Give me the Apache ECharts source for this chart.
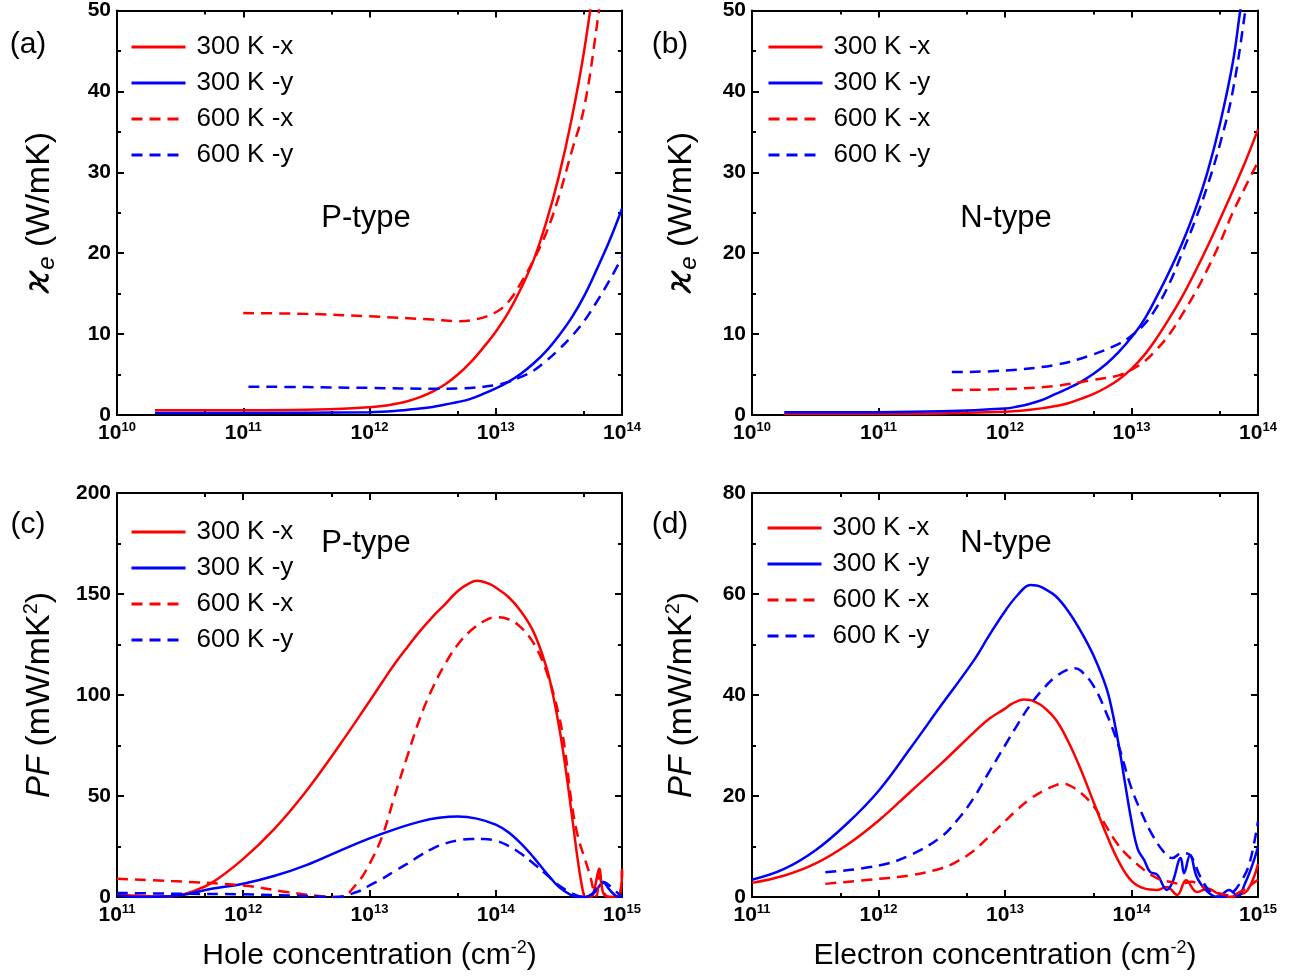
<!DOCTYPE html>
<html>
<head>
<meta charset="utf-8">
<title>Electronic thermal conductivity and power factor</title>
<script src="https://cdn.jsdelivr.net/npm/echarts@6/dist/echarts.min.js"></script>
<style>
  html, body { margin: 0; padding: 0; background: #ffffff; }
  #chart { width: 1296px; height: 976px; }
</style>
</head>
<body>
<div id="chart"></div>
<script>
// ---- series names and tick values ----
const seriesNames = ['300 K -x', '300 K -y', '600 K -x', '600 K -y'];
const decadesKappa = [1e10, 1e11, 1e12, 1e13, 1e14];
const minorKappa = [5e10, 5e11, 5e12, 5e13];
const decadesPF = [1e11, 1e12, 1e13, 1e14, 1e15];
const minorPF = [5e11, 5e12, 5e13, 5e14];

// ---- (a) P-type electronic thermal conductivity, [carrier conc. (cm^-2), W/mK] ----
const kappaP_300x = [[2e10,0.6],[1e11,0.6],[3.16e11,0.65],[1e12,0.95],[1.26e12,1.1],[1.58e12,1.35],[2e12,1.7],[2.51e12,2.2],[3.16e12,2.9],[3.98e12,3.8],[5.01e12,5.0],[6.31e12,6.5],[7.94e12,8.3],[1e13,10.3],[1.26e13,12.7],[1.58e13,15.6],[2e13,19.2],[2.51e13,23.8],[3.16e13,29.5],[3.98e13,36.5],[5.01e13,45],[6.31e13,56]];
const kappaP_300y = [[2e10,0.25],[1e11,0.25],[1e12,0.35],[1.58e12,0.5],[2.51e12,0.8],[3.16e12,1.0],[3.98e12,1.3],[5.01e12,1.6],[6.31e12,2.0],[7.94e12,2.6],[1e13,3.3],[1.26e13,4.1],[1.58e13,5.1],[2e13,6.4],[2.51e13,7.9],[3.16e13,9.8],[3.98e13,12.0],[5.01e13,14.7],[6.31e13,18.0],[7.94e13,21.5],[1e14,25.5]];
const kappaP_600x = [[1e11,12.6],[3.16e11,12.5],[1e12,12.2],[3.16e12,11.8],[5.01e12,11.6],[7.08e12,11.85],[1e13,12.7],[1.26e13,14.0],[1.58e13,16.3],[2e13,19.2],[2.51e13,22.5],[3.16e13,27.0],[3.98e13,32.5],[5.01e13,38],[6.31e13,48],[7.94e13,60]];
const kappaP_600y = [[1.1e11,3.5],[3.16e11,3.45],[1e12,3.35],[3.16e12,3.25],[5.5e12,3.3],[1e13,3.7],[1.26e13,4.1],[1.58e13,4.7],[2e13,5.5],[2.51e13,6.7],[3.16e13,8.1],[3.98e13,9.7],[5.01e13,11.6],[6.31e13,14.0],[7.94e13,16.6],[1e14,19.5]];

// ---- (b) N-type electronic thermal conductivity ----
const kappaN_300x = [[1.8e10,0.15],[1e11,0.15],[3.16e11,0.2],[1e12,0.4],[1.26e12,0.5],[1.58e12,0.65],[2e12,0.85],[2.51e12,1.1],[3.16e12,1.45],[3.98e12,2.0],[5.01e12,2.6],[6.31e12,3.4],[7.94e12,4.4],[1e13,5.7],[1.26e13,7.4],[1.58e13,9.5],[2e13,12.0],[2.51e13,14.6],[3.16e13,17.6],[3.98e13,20.8],[5.01e13,24.2],[6.31e13,27.7],[7.94e13,31.3],[1e14,35.3]];
const kappaN_300y = [[1.8e10,0.35],[1e11,0.35],[3.16e11,0.45],[1e12,0.8],[1.26e12,1.05],[1.58e12,1.4],[2e12,1.9],[2.51e12,2.6],[3.16e12,3.3],[3.98e12,4.1],[5.01e12,5.1],[6.31e12,6.3],[7.94e12,7.8],[1e13,9.6],[1.26e13,11.8],[1.58e13,14.6],[2e13,17.8],[2.51e13,21.2],[3.16e13,25.2],[3.98e13,30],[5.01e13,36],[6.31e13,43.5],[7.24e13,50],[7.94e13,54]];
const kappaN_600x = [[3.8e11,3.1],[1e12,3.2],[2.51e12,3.6],[4.79e12,4.3],[7.94e12,4.9],[1e13,5.6],[1.26e13,6.6],[1.58e13,8.1],[2e13,10.0],[2.51e13,12.4],[3.16e13,15.0],[3.98e13,18.0],[5.01e13,21.3],[6.31e13,25.0],[7.94e13,28.2],[1e14,31.3]];
const kappaN_600y = [[3.8e11,5.3],[1e12,5.5],[2.51e12,6.2],[4.79e12,7.4],[7.94e12,8.8],[1e13,9.8],[1.26e13,11.2],[1.58e13,13.3],[2e13,16.3],[2.51e13,20.0],[3.16e13,23.9],[3.98e13,28.3],[5.01e13,33.5],[6.31e13,40],[7.94e13,50],[8.51e13,54]];

// ---- (c) P-type power factor, [hole conc. (cm^-2), mW/mK^2] ----
const pfP_300x = [[1e11,1.3],[1.58e11,0.5],[2.51e11,0.2],[3.16e11,1.0],[3.98e11,2.8],[5.62e11,7.0],[1e12,18.9],[1.78e12,34],[3.16e12,52.5],[5.62e12,74],[1e13,96.9],[1.26e13,106.3],[1.58e13,115.3],[2e13,123.8],[2.51e13,131.6],[3.16e13,138.7],[3.98e13,145],[5.01e13,151.5],[6.31e13,155.6],[7.08e13,156.5],[7.94e13,156.1],[8.91e13,155.0],[1e14,153.2],[1.26e14,148.5],[1.58e14,141.5],[2e14,131],[2.51e14,114],[2.82e14,101],[3.16e14,85],[3.55e14,65],[3.98e14,42],[4.47e14,18],[4.9e14,3],[5.13e14,0],[5.7e14,0],[6.1e14,5],[6.6e14,14],[7.1e14,2],[8e14,0],[9.5e14,1],[1e15,14]];
const pfP_300y = [[1e11,0.8],[1.58e11,0],[2e11,0.1],[3.16e11,0.8],[5.62e11,4.1],[1e12,6.6],[1.78e12,10.5],[3.16e12,15.8],[5.62e12,22.5],[1e13,29.0],[1.58e13,33.5],[2.51e13,37.3],[3.55e13,39.2],[5.01e13,39.9],[7.08e13,38.8],[1e14,35.8],[1.26e14,32.0],[1.58e14,26.5],[2e14,19.5],[2.51e14,12.0],[3.16e14,5.0],[3.98e14,0.8],[4.47e14,0],[5.01e14,0],[6e14,2],[7.1e14,7],[8e14,3.5],[9e14,0.5],[1e15,0]];
const pfP_600x = [[1e11,9.0],[2.7e11,7.9],[1e12,5.7],[2.2e12,2.5],[4.3e12,0.3],[5.8e12,0],[7.94e12,6.6],[1e13,16.4],[1.26e13,30],[1.58e13,50],[2e13,70],[2.51e13,88.5],[3.16e13,103.5],[3.98e13,115.5],[5.01e13,125],[6.31e13,131.8],[7.94e13,136.3],[1e14,138.5],[1.26e14,137.5],[1.58e14,133.5],[2e14,125.5],[2.51e14,112],[3.16e14,90],[3.55e14,72],[3.98e14,47],[4.47e14,30],[5.01e14,20],[5.62e14,10],[6.03e14,2],[6.31e14,0.5],[6.61e14,14],[7.08e14,3],[7.94e14,0],[9.33e14,0],[1e15,13]];
const pfP_600y = [[1e11,2.0],[3.16e11,1.6],[1e12,1.3],[3.16e12,0.5],[5.4e12,0],[7.94e12,2.5],[1e13,5.7],[1.26e13,9.0],[1.58e13,12.8],[2e13,16.5],[2.51e13,20.5],[3.16e13,24.0],[3.98e13,26.5],[5.01e13,28.0],[6.31e13,28.7],[7.94e13,28.7],[1e14,27.9],[1.26e14,25.3],[1.58e14,21.5],[2e14,16.5],[2.51e14,11.2],[3.16e14,5.8],[3.98e14,2.0],[4.68e14,0.3],[5.62e14,1],[7.08e14,7.4],[8.51e14,4],[1e15,0]];

// ---- (d) N-type power factor, [electron conc. (cm^-2), mW/mK^2] ----
const pfN_300x = [[1e11,2.8],[1.78e11,4.2],[3.16e11,6.6],[5.62e11,10.3],[1e12,15.1],[1.78e12,20.8],[3.16e12,26.5],[5.62e12,32.5],[7.5e12,35.3],[1e13,37.3],[1.12e13,38.2],[1.26e13,38.8],[1.41e13,39.1],[1.58e13,39.0],[1.78e13,38.5],[2e13,37.7],[2.51e13,35.2],[3.16e13,30.8],[3.98e13,25.2],[5.01e13,18.8],[6.31e13,12.5],[7.94e13,7.0],[1e14,3.2],[1.26e14,1.7],[1.6e14,1.4],[1.9e14,2.0],[2.3e14,0.4],[2.7e14,3.3],[3.3e14,1],[4e14,1.7],[4.8e14,0.7],[5.8e14,0],[6.9e14,0.3],[8.3e14,1.4],[1e15,6.5]];
const pfN_300y = [[1e11,3.4],[1.78e11,5.5],[3.16e11,9.2],[5.62e11,14.5],[1e12,21],[1.78e12,29.4],[3.16e12,38.1],[5.62e12,46.7],[7.5e12,51.8],[1e13,56.6],[1.26e13,59.8],[1.58e13,61.8],[1.78e13,61.7],[2e13,61.2],[2.51e13,59.6],[3.16e13,56.6],[3.98e13,52.6],[5.01e13,47.8],[6.31e13,41.5],[7.08e13,36.5],[7.94e13,30],[8.91e13,22.4],[1e14,15],[1.12e14,9.5],[1.26e14,7.3],[1.4e14,5.0],[1.6e14,4.4],[1.8e14,2.0],[1.9e14,1.4],[2.1e14,2.8],[2.45e14,7.7],[2.6e14,4.7],[2.9e14,8.3],[3.3e14,3.8],[4e14,1],[4.8e14,0],[5.9e14,1.4],[6.9e14,0.2],[7.9e14,2.7],[9.3e14,7.3],[1e15,10]];
const pfN_600x = [[3.8e11,2.6],[1e12,3.6],[1.78e12,4.3],[3.16e12,5.7],[4.22e12,7.1],[5.62e12,9.1],[7.5e12,12.0],[1e13,15.0],[1.26e13,17.4],[1.58e13,19.4],[2e13,21.0],[2.51e13,22.1],[2.82e13,22.4],[3.16e13,22.2],[3.98e13,20.6],[5.01e13,18.0],[6.31e13,14.0],[7.59e13,10.8],[8.91e13,8.7],[1.17e14,6.0],[1.4e14,4.5],[1.7e14,3.4],[2e14,3.0],[2.45e14,2.6],[3e14,3],[3.5e14,2.3],[4.2e14,1.3],[5e14,0.7],[6e14,0.3],[7.2e14,1.0],[8.7e14,2.3],[1e15,3.4]];
const pfN_600y = [[3.8e11,4.9],[1e12,6.2],[1.78e12,8.3],[3.16e12,12.0],[4.22e12,15.3],[5.62e12,19.5],[7.5e12,24.8],[1e13,30.0],[1.26e13,34.2],[1.58e13,38.0],[2e13,41.2],[2.51e13,43.6],[3.16e13,45.1],[3.55e13,45.3],[3.98e13,44.8],[5.01e13,41.8],[6.31e13,36.5],[7.94e13,29.8],[1e14,21.5],[1.26e14,15.5],[1.41e14,13],[1.75e14,9.3],[2.1e14,7.7],[2.5e14,8.7],[2.9e14,8.3],[3.5e14,4.0],[4.2e14,1.0],[5.1e14,0],[5.9e14,0.3],[7.6e14,3.7],[8.7e14,7.3],[1e15,15]];

// ---- styling ----
const FONT = '"Liberation Sans", Arial, Helvetica, sans-serif';
const RED = '#ff0000';
const BLUE = '#0000ff';
const DASH = [11, 7];
const lineLooks = [
  { color: RED, type: 'solid' },
  { color: BLUE, type: 'solid' },
  { color: RED, type: DASH },
  { color: BLUE, type: DASH }
];

const kappaName = '{k|\u03F0}{e|e}{u| (W/mK)}';
const pfName = '{i|PF}{u| (mW/mK}{s|2}{u|)}';
const yNameRich = {
  k: { fontSize: 36, fontStyle: 'italic', fontFamily: '"DejaVu Sans", ' + FONT, lineHeight: 38, color: '#000' },
  e: { fontSize: 24, fontStyle: 'italic', fontFamily: FONT, lineHeight: 20, verticalAlign: 'bottom', color: '#000' },
  i: { fontSize: 33, fontStyle: 'italic', fontFamily: FONT, lineHeight: 38, color: '#000' },
  u: { fontSize: 34, fontFamily: FONT, lineHeight: 38, color: '#000' },
  s: { fontSize: 20, fontFamily: FONT, lineHeight: 20, verticalAlign: 'top', color: '#000' }
};
const xNameRich = {
  u: { fontSize: 30, fontFamily: FONT, lineHeight: 34, color: '#000' },
  s: { fontSize: 18, fontFamily: FONT, lineHeight: 18, verticalAlign: 'top', color: '#000' }
};

const panels = [
  { grid: { left: 117, top: 9, width: 505, height: 406 }, xMin: 1e10, xMax: 1e14, majors: decadesKappa, minors: minorKappa,
    yMax: 50, yStep: 10, yName: kappaName, yGap: 58, xName: '',
    legendPos: { left: 130, top: 34 }, data: [kappaP_300x, kappaP_300y, kappaP_600x, kappaP_600y] },
  { grid: { left: 752, top: 9, width: 506, height: 406 }, xMin: 1e10, xMax: 1e14, majors: decadesKappa, minors: minorKappa,
    yMax: 50, yStep: 10, yName: kappaName, yGap: 51, xName: '',
    legendPos: { left: 767, top: 34 }, data: [kappaN_300x, kappaN_300y, kappaN_600x, kappaN_600y] },
  { grid: { left: 117, top: 493, width: 505, height: 404 }, xMin: 1e11, xMax: 1e15, majors: decadesPF, minors: minorPF,
    yMax: 200, yStep: 50, yName: pfName, yGap: 58, xName: '{u|Hole concentration (cm}{s|-2}{u|)}',
    legendPos: { left: 130, top: 519 }, data: [pfP_300x, pfP_300y, pfP_600x, pfP_600y] },
  { grid: { left: 752, top: 493, width: 506, height: 404 }, xMin: 1e11, xMax: 1e15, majors: decadesPF, minors: minorPF,
    yMax: 80, yStep: 20, yName: pfName, yGap: 51, xName: '{u|Electron concentration (cm}{s|-2}{u|)}',
    legendPos: { left: 766, top: 515 }, data: [pfN_300x, pfN_300y, pfN_600x, pfN_600y] }
];

const axisLineStyle = { color: '#000', width: 2 };
const majorTick = { show: true, inside: true, length: 7, lineStyle: { color: '#000', width: 2 } };
const minorTickStyle = { show: true, inside: true, length: 4, lineStyle: { color: '#000', width: 2 } };

function powerLabel(value) {
  const e = Math.round(Math.log10(value));
  return '{b|10}{s|' + e + '}';
}

// pull the end decades a hair inside the axis range so rounding of the
// log extent does not drop them
function inRange(values, lo, hi) {
  return values.map(function (v) {
    if (v >= hi) return hi * (1 - 1e-9);
    if (v <= lo) return lo * (1 + 1e-9);
    return v;
  });
}

const grids = [], xAxes = [], yAxes = [], series = [], legends = [];

panels.forEach(function (p, g) {
  grids.push(Object.assign({ containLabel: false }, p.grid));
  const majors = inRange(p.majors, p.xMin, p.xMax);

  // bottom axis with decade labels
  xAxes.push({
    type: 'log', logBase: 10, gridIndex: g, position: 'bottom', min: p.xMin, max: p.xMax,
    axisLine: { show: true, onZero: false, lineStyle: axisLineStyle },
    axisTick: Object.assign({ customValues: majors }, majorTick),
    axisLabel: {
      customValues: majors, formatter: powerLabel, margin: 6, color: '#000',
      fontSize: 21, fontWeight: 'bold', fontFamily: FONT,
      rich: {
        b: { fontSize: 21, fontWeight: 'bold', fontFamily: FONT, lineHeight: 24, color: '#000' },
        s: { fontSize: 13, fontWeight: 'bold', fontFamily: FONT, lineHeight: 14, verticalAlign: 'top', color: '#000' }
      }
    },
    splitLine: { show: false },
    name: p.xName, nameLocation: 'middle', nameGap: 42, nameTextStyle: { rich: xNameRich }
  });
  // bottom minor ticks at 5 x 10^n
  xAxes.push({
    type: 'log', logBase: 10, gridIndex: g, position: 'bottom', min: p.xMin, max: p.xMax,
    axisLine: { show: false, onZero: false },
    axisTick: Object.assign({ customValues: p.minors }, minorTickStyle),
    axisLabel: { show: false }, splitLine: { show: false }
  });
  // top frame with mirrored ticks
  xAxes.push({
    type: 'log', logBase: 10, gridIndex: g, position: 'top', min: p.xMin, max: p.xMax,
    axisLine: { show: true, onZero: false, lineStyle: axisLineStyle },
    axisTick: Object.assign({ customValues: majors }, majorTick),
    axisLabel: { show: false }, splitLine: { show: false }
  });
  xAxes.push({
    type: 'log', logBase: 10, gridIndex: g, position: 'top', min: p.xMin, max: p.xMax,
    axisLine: { show: false, onZero: false },
    axisTick: Object.assign({ customValues: p.minors }, minorTickStyle),
    axisLabel: { show: false }, splitLine: { show: false }
  });

  // left value axis
  yAxes.push({
    type: 'value', gridIndex: g, position: 'left', min: 0, max: p.yMax, interval: p.yStep,
    axisLine: { show: true, onZero: false, lineStyle: axisLineStyle },
    axisTick: majorTick,
    minorTick: Object.assign({ splitNumber: 2 }, minorTickStyle),
    axisLabel: { fontSize: 21, fontWeight: 'bold', fontFamily: FONT, color: '#000', margin: 6 },
    splitLine: { show: false }, minorSplitLine: { show: false },
    name: p.yName, nameLocation: 'middle', nameGap: p.yGap, nameRotate: 90,
    nameTextStyle: { rich: yNameRich }
  });
  // right frame
  yAxes.push({
    type: 'value', gridIndex: g, position: 'right', min: 0, max: p.yMax, interval: p.yStep,
    axisLine: { show: true, onZero: false, lineStyle: axisLineStyle },
    axisTick: majorTick,
    minorTick: Object.assign({ splitNumber: 2 }, minorTickStyle),
    axisLabel: { show: false },
    splitLine: { show: false }, minorSplitLine: { show: false }
  });

  p.data.forEach(function (pts, i) {
    series.push({
      type: 'line', name: seriesNames[i], xAxisIndex: 4 * g, yAxisIndex: 2 * g,
      data: pts, symbol: 'none', showSymbol: false,
      smooth: 0.4, clip: true,
      lineStyle: { color: lineLooks[i].color, width: 2.5, type: lineLooks[i].type },
      itemStyle: { color: lineLooks[i].color },
      emphasis: { disabled: true }
    });
  });

  legends.push({
    orient: 'vertical', left: p.legendPos.left, top: p.legendPos.top, padding: 0,
    itemWidth: 54, itemHeight: 14, itemGap: 10, selectedMode: false,
    data: seriesNames,
    itemStyle: { opacity: 0 },
    lineStyle: { width: 3 },
    textStyle: { fontSize: 26, fontFamily: FONT, color: '#000', lineHeight: 26, padding: [0, 0, 0, 6] }
  });
});

function label(text, x, y, size) {
  return {
    type: 'text', x: x, y: y, silent: true,
    style: { text: text, fontSize: size, fontFamily: FONT, fill: '#000', align: 'center', verticalAlign: 'middle' }
  };
}

const chart = echarts.init(document.getElementById('chart'), null, { renderer: 'canvas' });
chart.setOption({
  animation: false,
  backgroundColor: '#ffffff',
  grid: grids,
  xAxis: xAxes,
  yAxis: yAxes,
  legend: legends,
  series: series,
  graphic: [
    label('(a)', 28, 45, 30), label('(b)', 670, 45, 30),
    label('(c)', 28, 525, 30), label('(d)', 670, 525, 30),
    label('P-type', 366, 218, 31), label('N-type', 1006, 218, 31),
    label('P-type', 366, 543, 31), label('N-type', 1006, 543, 31)
  ]
});
</script>
</body>
</html>
